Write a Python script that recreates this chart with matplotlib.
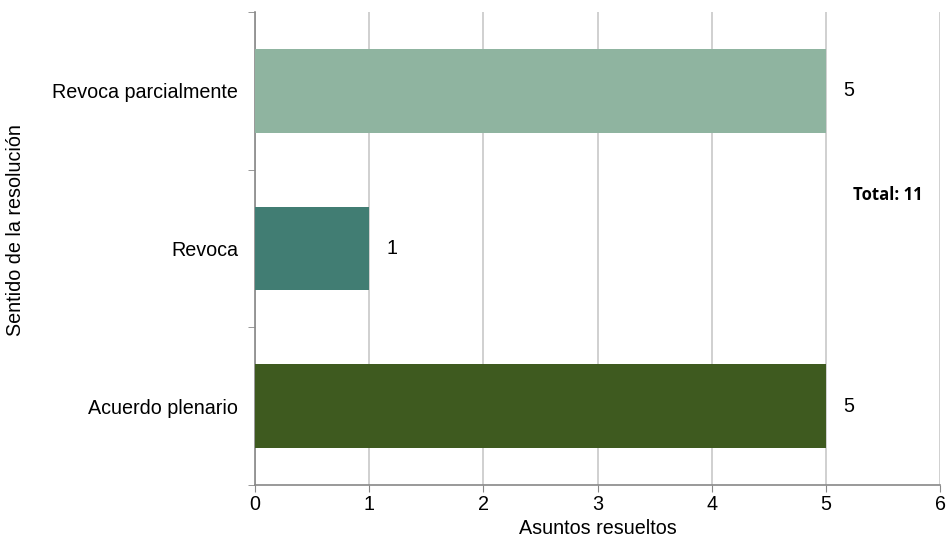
import matplotlib
matplotlib.use("Agg")
import matplotlib.pyplot as plt

categories = ["Acuerdo plenario", "Revoca", "Revoca parcialmente"]
values = [5, 1, 5]
colors = ["#3E5A1F", "#417D73", "#8FB4A0"]
x_ticks = [0, 1, 2, 3, 4, 5, 6]
total_label = "Total: 11"

plt.rcParams['font.family'] = ['Liberation Sans', 'DejaVu Sans']
FS = 14.2

fig = plt.figure(figsize=(9.48, 5.4), dpi=100)
ax = fig.add_axes([255/948, 55/540, 685/948, 473/540])

pos = list(range(len(categories)))
ax.barh(pos, values, height=0.53, color=colors, zorder=3)
ax.set_xlim(0, 6)
ax.set_ylim(-0.5, len(categories) - 0.5)
ax.set_xticks(x_ticks)
ax.set_xticklabels([str(t) for t in x_ticks], fontsize=FS)
ax.set_yticks(pos)
ax.set_yticklabels(categories, fontsize=FS)
ax.tick_params(axis='y', length=0, pad=12)
ax.set_yticks([p - 0.5 for p in pos] + [len(categories) - 0.5], minor=True)
ax.tick_params(axis='y', which='minor', length=5, color='#888888', direction='out')
ax.tick_params(axis='x', length=5, color='#888888', direction='out', pad=2)

ax.xaxis.grid(True, color='#C8C8C8', linewidth=1.2, zorder=0)
ax.set_axisbelow(True)
for s in ['top', 'right']:
    ax.spines[s].set_visible(False)
for s in ['left', 'bottom']:
    ax.spines[s].set_color('#888888')
    ax.spines[s].set_linewidth(1.2)

for p, v in zip(pos, values):
    ax.text(v + 0.15, p, str(v), va='center', ha='left', fontsize=FS)

ax.set_xlabel("Asuntos resueltos", fontsize=FS, labelpad=4)
ax.set_ylabel("Sentido de la resolución", fontsize=FS)
ax.yaxis.set_label_coords((25 - 255) / 685, 0.539)
fig.text(888/948, 1 - 195/540, total_label, ha='center', va='center',
         fontsize=12, fontweight='bold', family=['Open Sans', 'DejaVu Sans'])

fig.savefig("out.png", dpi=100)
